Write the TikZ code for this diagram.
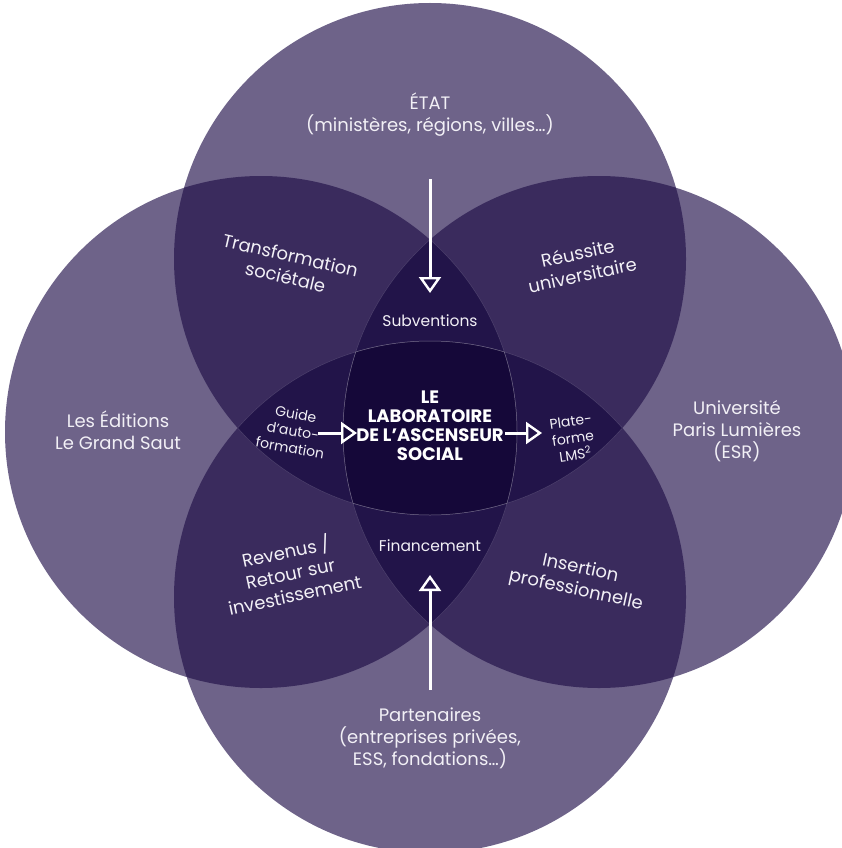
\documentclass[tikz,border=0pt]{standalone}
\usepackage{fontspec}
\setmainfont{Poppins}
\usetikzlibrary{arrows.meta}
\definecolor{cOne}{HTML}{6E6389}
\definecolor{cTwo}{HTML}{3A2B5D}
\definecolor{cThree}{HTML}{221449}
\definecolor{cFour}{HTML}{150839}
\definecolor{txt}{HTML}{F2F0F6}
\def\rr{256pt}
\newcommand\pairfill[3]{\begin{scope}\clip (#1) circle[radius=\rr]; \fill[#3] (#2) circle[radius=\rr];\end{scope}}
\newcommand\tripfill[4]{\begin{scope}\clip (#1) circle[radius=\rr]; \clip (#2) circle[radius=\rr]; \fill[#4] (#3) circle[radius=\rr];\end{scope}}
\newcommand\rimline[3]{\begin{scope}\clip (#2) circle[radius=\rr]; \clip (#3) circle[radius=\rr]; \draw[rim] (#1) circle[radius=\rr];\end{scope}}
\begin{document}
\begin{tikzpicture}[x=1pt,y=-1pt,
  rim/.style={draw=white, draw opacity=0.15, line width=0.5pt},
  lbl/.style={text=txt, align=center, font=\fontsize{18}{22}\selectfont, inner sep=0pt},
  sml/.style={text=txt, align=center, font=\fontsize{15.5}{18}\selectfont, inner sep=0pt},
  wedge/.style={text=txt, align=center, font=\fontsize{14}{17}\selectfont, inner sep=0pt},
  core/.style={text=white, align=center, font=\fontsize{18}{19}\selectfont\bfseries, inner sep=0pt},
  flow/.style={draw=white, line width=3pt, -{Triangle[open, length=16pt, width=22pt, line width=2.4pt]}}]
\useasboundingbox (0,0) rectangle (842,848);
\fill[white] (0,0) rectangle (842,848);
\coordinate (T) at (430,259);
\coordinate (L) at (261,432);
\coordinate (R) at (599,432);
\coordinate (B) at (430,597);
% single
\fill[cOne] (T) circle[radius=\rr];
\fill[cOne] (L) circle[radius=\rr];
\fill[cOne] (R) circle[radius=\rr];
\fill[cOne] (B) circle[radius=\rr];
% pairs
\pairfill{T}{L}{cTwo}
\pairfill{T}{R}{cTwo}
\pairfill{T}{B}{cTwo}
\pairfill{L}{R}{cTwo}
\pairfill{L}{B}{cTwo}
\pairfill{R}{B}{cTwo}
% triples
\tripfill{T}{L}{R}{cThree}
\tripfill{T}{L}{B}{cThree}
\tripfill{T}{R}{B}{cThree}
\tripfill{L}{R}{B}{cThree}
% quadruple
\begin{scope}
\clip (T) circle[radius=\rr];
\clip (L) circle[radius=\rr];
\clip (R) circle[radius=\rr];
\fill[cFour] (B) circle[radius=\rr];
\end{scope}
% faint rims
\rimline{T}{L}{R}\rimline{T}{L}{B}\rimline{T}{R}{B}
\rimline{L}{T}{R}\rimline{L}{T}{B}\rimline{L}{R}{B}
\rimline{R}{T}{L}\rimline{R}{T}{B}\rimline{R}{L}{B}
\rimline{B}{T}{L}\rimline{B}{T}{R}\rimline{B}{L}{R}
% labels
\node[lbl] (etat) at (430,115) {ÉTAT\\(ministères, régions, villes…)};
\node[lbl, rotate=-13] (transfo) at (288,266) {Transformation\\sociétale};
\node[lbl, rotate=12] (reussite) at (580,264) {Réussite\\universitaire};
\node[sml] (subv) at (430,321) {Subventions};
\node[lbl] (editions) at (118,430) {Les Éditions\\Le Grand Saut};
\node[wedge, rotate=-10] (guide) at (293,431) {Guide\\d’auto-\\formation};
\node[core] (lab) at (430,426) {LE\\LABORATOIRE\\DE L’ASCENSEUR\\SOCIAL};
\node[wedge, rotate=8] (plate) at (573,438) {Plate-\\forme\\LMS\textsuperscript{2}};
\node[lbl] (univ) at (737,431) {Université\\Paris Lumières\\(ESR)};
\node[lbl, rotate=12] (revenus) at (290,572) {Revenus /\\Retour sur\\investissement};
\node[sml] (finance) at (430,546) {Financement};
\node[lbl, rotate=-12] (insertion) at (578,580) {Insertion\\professionnelle};
\node[lbl] (part) at (430,738) {Partenaires\\(entreprises privées,\\ESS, fondations…)};
% arrows
\coordinate (ta) at (430,179);
\coordinate (tb) at (430,293);
\coordinate (ba) at (430,690);
\coordinate (bb) at (430,575);
\coordinate (la) at (318,433);
\coordinate (lb) at (357,433);
\coordinate (ra) at (505,433);
\coordinate (rb) at (542,433);
\draw[flow] (ta) -- (tb);
\draw[flow] (ba) -- (bb);
\draw[flow] (la) -- (lb);
\draw[flow] (ra) -- (rb);
\end{tikzpicture}
\end{document}
